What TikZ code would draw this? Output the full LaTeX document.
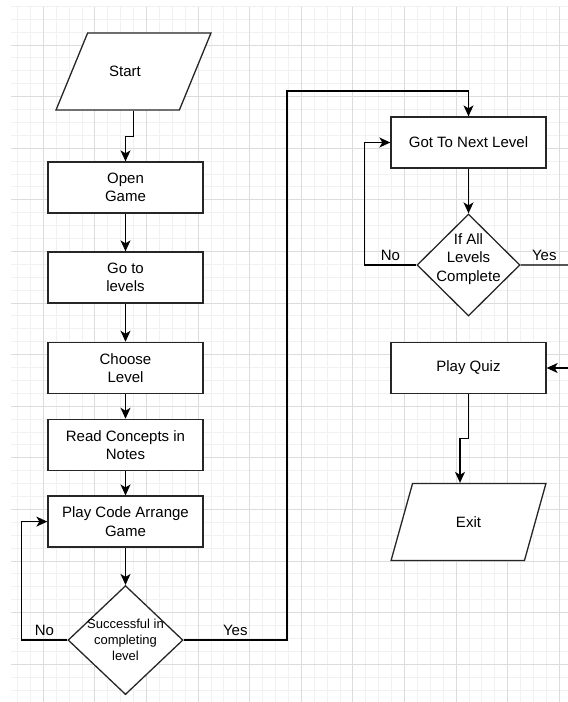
\documentclass[tikz,border=0pt]{standalone}
\usepackage{fontspec}
\setmainfont{Liberation Sans}
\usetikzlibrary{positioning,shapes.geometric,arrows.meta}
\definecolor{gridminor}{HTML}{F1F1F1}
\definecolor{gridmajor}{HTML}{DCDCDC}
\definecolor{lineclr}{HTML}{262626}
\tikzset{
  term/.style={trapezium, trapezium left angle=71, trapezium right angle=109, trapezium stretches=true, minimum width=155pt, minimum height=77pt, text centered, draw=lineclr, fill=white},
  proc/.style={rectangle, minimum width=155pt, minimum height=51pt, text centered, align=center, draw=lineclr, fill=white},
  dec/.style={diamond, inner sep=0pt, draw=lineclr, fill=white},
  small/.style={font=\fontsize{13}{16}\selectfont, align=center},
  >={Stealth[length=11pt,width=10pt,inset=3pt]}
}
\begin{document}
\begin{tikzpicture}[x=1pt, y=-1pt, line width=1.3pt, font=\fontsize{15}{18.5}\selectfont]
	\useasboundingbox (0,0) rectangle (568,702);
	% grid paper
	\fill[white] (0,0) rectangle (568,702);
	\foreach \i in {-2,...,40} \draw[gridminor, line width=1pt] (43.3+12.9*\i,6.5) -- (43.3+12.9*\i,702);
	\foreach \i in {-3,...,50} \draw[gridminor, line width=1pt] (11,45+12.9*\i) -- (568,45+12.9*\i);
	\foreach \i in {0,...,10} \draw[gridmajor, line width=1pt] (43.3+51.6*\i,6.5) -- (43.3+51.6*\i,702);
	\foreach \i in {0,...,12} \draw[gridmajor, line width=1pt] (11,45+51.6*\i) -- (568,45+51.6*\i);
	%
	\node[term, label={[xshift=-8.5pt]center:Start}] (start) at (133.5,71.5) {};
	\node[proc] (open) at (125.5,187.5) {Open\\Game};
	\node[proc, below=37.7pt of open] (golev) {Go to\\levels};
	\node[proc, below=38.1pt of golev] (choose) {Choose\\Level};
	\node[proc, below=24.7pt of choose] (read) {Read Concepts in\\Notes};
	\node[proc, below=24.4pt of read] (play) {Play Code Arrange\\Game};
	\node[dec, minimum width=115pt, minimum height=109pt, below=37.2pt of play,
	      label={[small]center:Successful in\\completing\\level}] (succ) {};
	%
	\node[proc] (next) at (468.5,142.5) {Got To Next Level};
	\node[dec, minimum width=103pt, minimum height=102pt, below=44.7pt of next,
	      label={[yshift=6pt, align=center]center:If All\\Levels\\Complete}] (all) {};
	\node[proc] (quiz) at (468.5,368) {Play Quiz};
	\node[term, below=88.7pt of quiz] (exit) {Exit};
	%
	\coordinate (toprail) at (287,91);
	\coordinate (rightout) at (568,265);
	\coordinate (rightin) at (568,368);
	%
	\draw[->] (start.south) -- ++(0,26) -| (open.north);
	\draw[->] (open) -- (golev);
	\draw[->] (golev) -- (choose);
	\draw[->] (choose) -- (read);
	\draw[->] (read) -- (play);
	\draw[->] (play) -- (succ);
	\draw[->] (succ.west) -- node[above] {No} ++(-46,0) |- (play.west);
	\draw[->] (succ.east) -- node[above] {Yes} (succ.east -| toprail) -- (toprail) -| (next.north);
	\draw[->] (next) -- (all);
	\draw[->] (all.west) -- node[above] {No} ++(-52,0) |- (next.west);
	\draw (all.east) -- node[above] {Yes} (rightout);
	\draw[->] (rightin) -- (quiz.east);
	\draw[->] (quiz.south) -- ++(0,44) -| ([xshift=-8.5pt]exit.north);
\end{tikzpicture}
\end{document}
